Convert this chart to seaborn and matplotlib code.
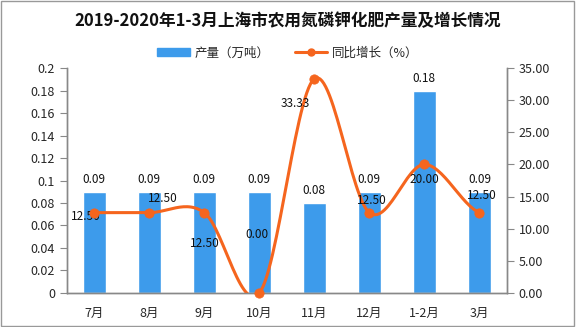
import numpy as np
import pandas as pd
import matplotlib
matplotlib.use("Agg")
import matplotlib.pyplot as plt
import seaborn as sns

categories = ["7月", "8月", "9月", "10月", "11月", "12月", "1-2月", "3月"]
output = [0.09, 0.09, 0.09, 0.09, 0.08, 0.09, 0.18, 0.09]
growth = [12.50, 12.50, 12.50, 0.00, 33.33, 12.50, 20.00, 12.50]
title = "2019-2020年1-3月上海市农用氮磷钾化肥产量及增长情况"
bar_name = "产量（万吨）"
line_name = "同比增长（%）"

# label offsets (points) for growth labels
growth_offsets = [(-6, -3), (10, 10), (0, -22), (-2, 42), (-14, -18), (2, 9), (0, -11), (2, 12)]

sns.set_style("white")
plt.rcParams['font.family'] = ['Noto Sans CJK SC', 'DejaVu Sans']

BLUE = "#3D9BEB"
ORANGE = "#F5651E"
GRAY = "#888888"

fig = plt.figure(figsize=(5.76, 3.27), dpi=100)
ax = fig.add_axes([0.116, 0.104, 0.764, 0.688])
ax2 = ax.twinx()

df = pd.DataFrame({"cat": categories, "val": output})
sns.barplot(data=df, x="cat", y="val", color=BLUE, width=0.42, ax=ax, saturation=1)
ax.set_ylim(0, 0.2)
ax.set_xlim(-0.5, len(categories) - 0.5)
ax.set_yticks(np.arange(0, 0.2001, 0.02))
ax.set_yticklabels(["{:g}".format(round(v, 2)) for v in np.arange(0, 0.2001, 0.02)])
ax.set_xlabel("")
ax.set_ylabel("")
for i, v in enumerate(output):
    ax.annotate("{:.2f}".format(v), (i, v), xytext=(0, 4), textcoords="offset points",
                ha="center", va="bottom", fontsize=8.5, color="#111111")

# smooth curve (Catmull-Rom) through the data points
xs = np.arange(len(growth), dtype=float)
ys = np.array(growth, dtype=float)
px = np.concatenate([[2 * xs[0] - xs[1]], xs, [2 * xs[-1] - xs[-2]]])
py = np.concatenate([[ys[0]], ys, [ys[-1]]])
cx, cy = [], []
for k in range(1, len(px) - 2):
    t = np.linspace(0, 1, 30)
    p0, p1, p2, p3 = py[k - 1], py[k], py[k + 1], py[k + 2]
    yy = 0.5 * ((2 * p1) + (-p0 + p2) * t + (2 * p0 - 5 * p1 + 4 * p2 - p3) * t ** 2 + (-p0 + 3 * p1 - 3 * p2 + p3) * t ** 3)
    xx = px[k] + t
    cx.extend(xx)
    cy.extend(yy)
curve = pd.DataFrame({"x": cx, "y": cy})
sns.lineplot(data=curve, x="x", y="y", color=ORANGE, lw=2.2, ax=ax2, sort=False)
pts = pd.DataFrame({"x": xs, "y": ys})
sns.scatterplot(data=pts, x="x", y="y", color=ORANGE, s=45, edgecolor=ORANGE, ax=ax2, zorder=5, clip_on=False)
ax2.set_ylim(0, 35)
ax2.set_yticks(np.arange(0, 35.01, 5))
ax2.set_yticklabels(["{:.2f}".format(v) for v in np.arange(0, 35.01, 5)])
ax2.set_xlabel("")
ax2.set_ylabel("")
for i, v in enumerate(growth):
    dx, dy = growth_offsets[i]
    ax2.annotate("{:.2f}".format(v), (i, v), xytext=(dx, dy), textcoords="offset points",
                 ha="center", va="center", fontsize=8.5, color="#111111")

# spines/ticks
for a in (ax, ax2):
    for s in ["top"]:
        a.spines[s].set_visible(False)
    for s in ["left", "right", "bottom"]:
        a.spines[s].set_color(GRAY)
        a.spines[s].set_linewidth(1)
ax.set_xticks(np.arange(len(categories)))
ax.set_xticklabels(categories)
ax.set_xticks(np.arange(-0.5, len(categories), 1), minor=True)
ax.tick_params(axis="x", which="major", length=0, labelsize=9, pad=10)
ax.tick_params(axis="x", which="minor", length=5, color=GRAY, direction="out")
ax.tick_params(axis="y", length=5, color=GRAY, direction="out", labelsize=9)
ax2.tick_params(axis="y", length=5, color=GRAY, direction="out", labelsize=9)

# legend
from matplotlib.patches import Patch
from matplotlib.lines import Line2D
handles = [Patch(color=BLUE, label=bar_name),
           Line2D([0], [0], color=ORANGE, lw=2.2, marker="o", markersize=5, label=line_name)]
fig.legend(handles=handles, loc="center", bbox_to_anchor=(0.5, 0.838), ncol=2, frameon=False,
           fontsize=9, handlelength=2.6, columnspacing=2.0, handletextpad=0.4)

fig.text(0.5, 0.935, title, ha="center", va="center", fontsize=12, fontweight="bold", color="#111111")

border = plt.Rectangle((0.002, 0.003), 0.995, 0.994, transform=fig.transFigure, fill=False,
                       edgecolor="#999999", lw=1)
fig.patches.append(border)

fig.savefig("out.png", dpi=100)
